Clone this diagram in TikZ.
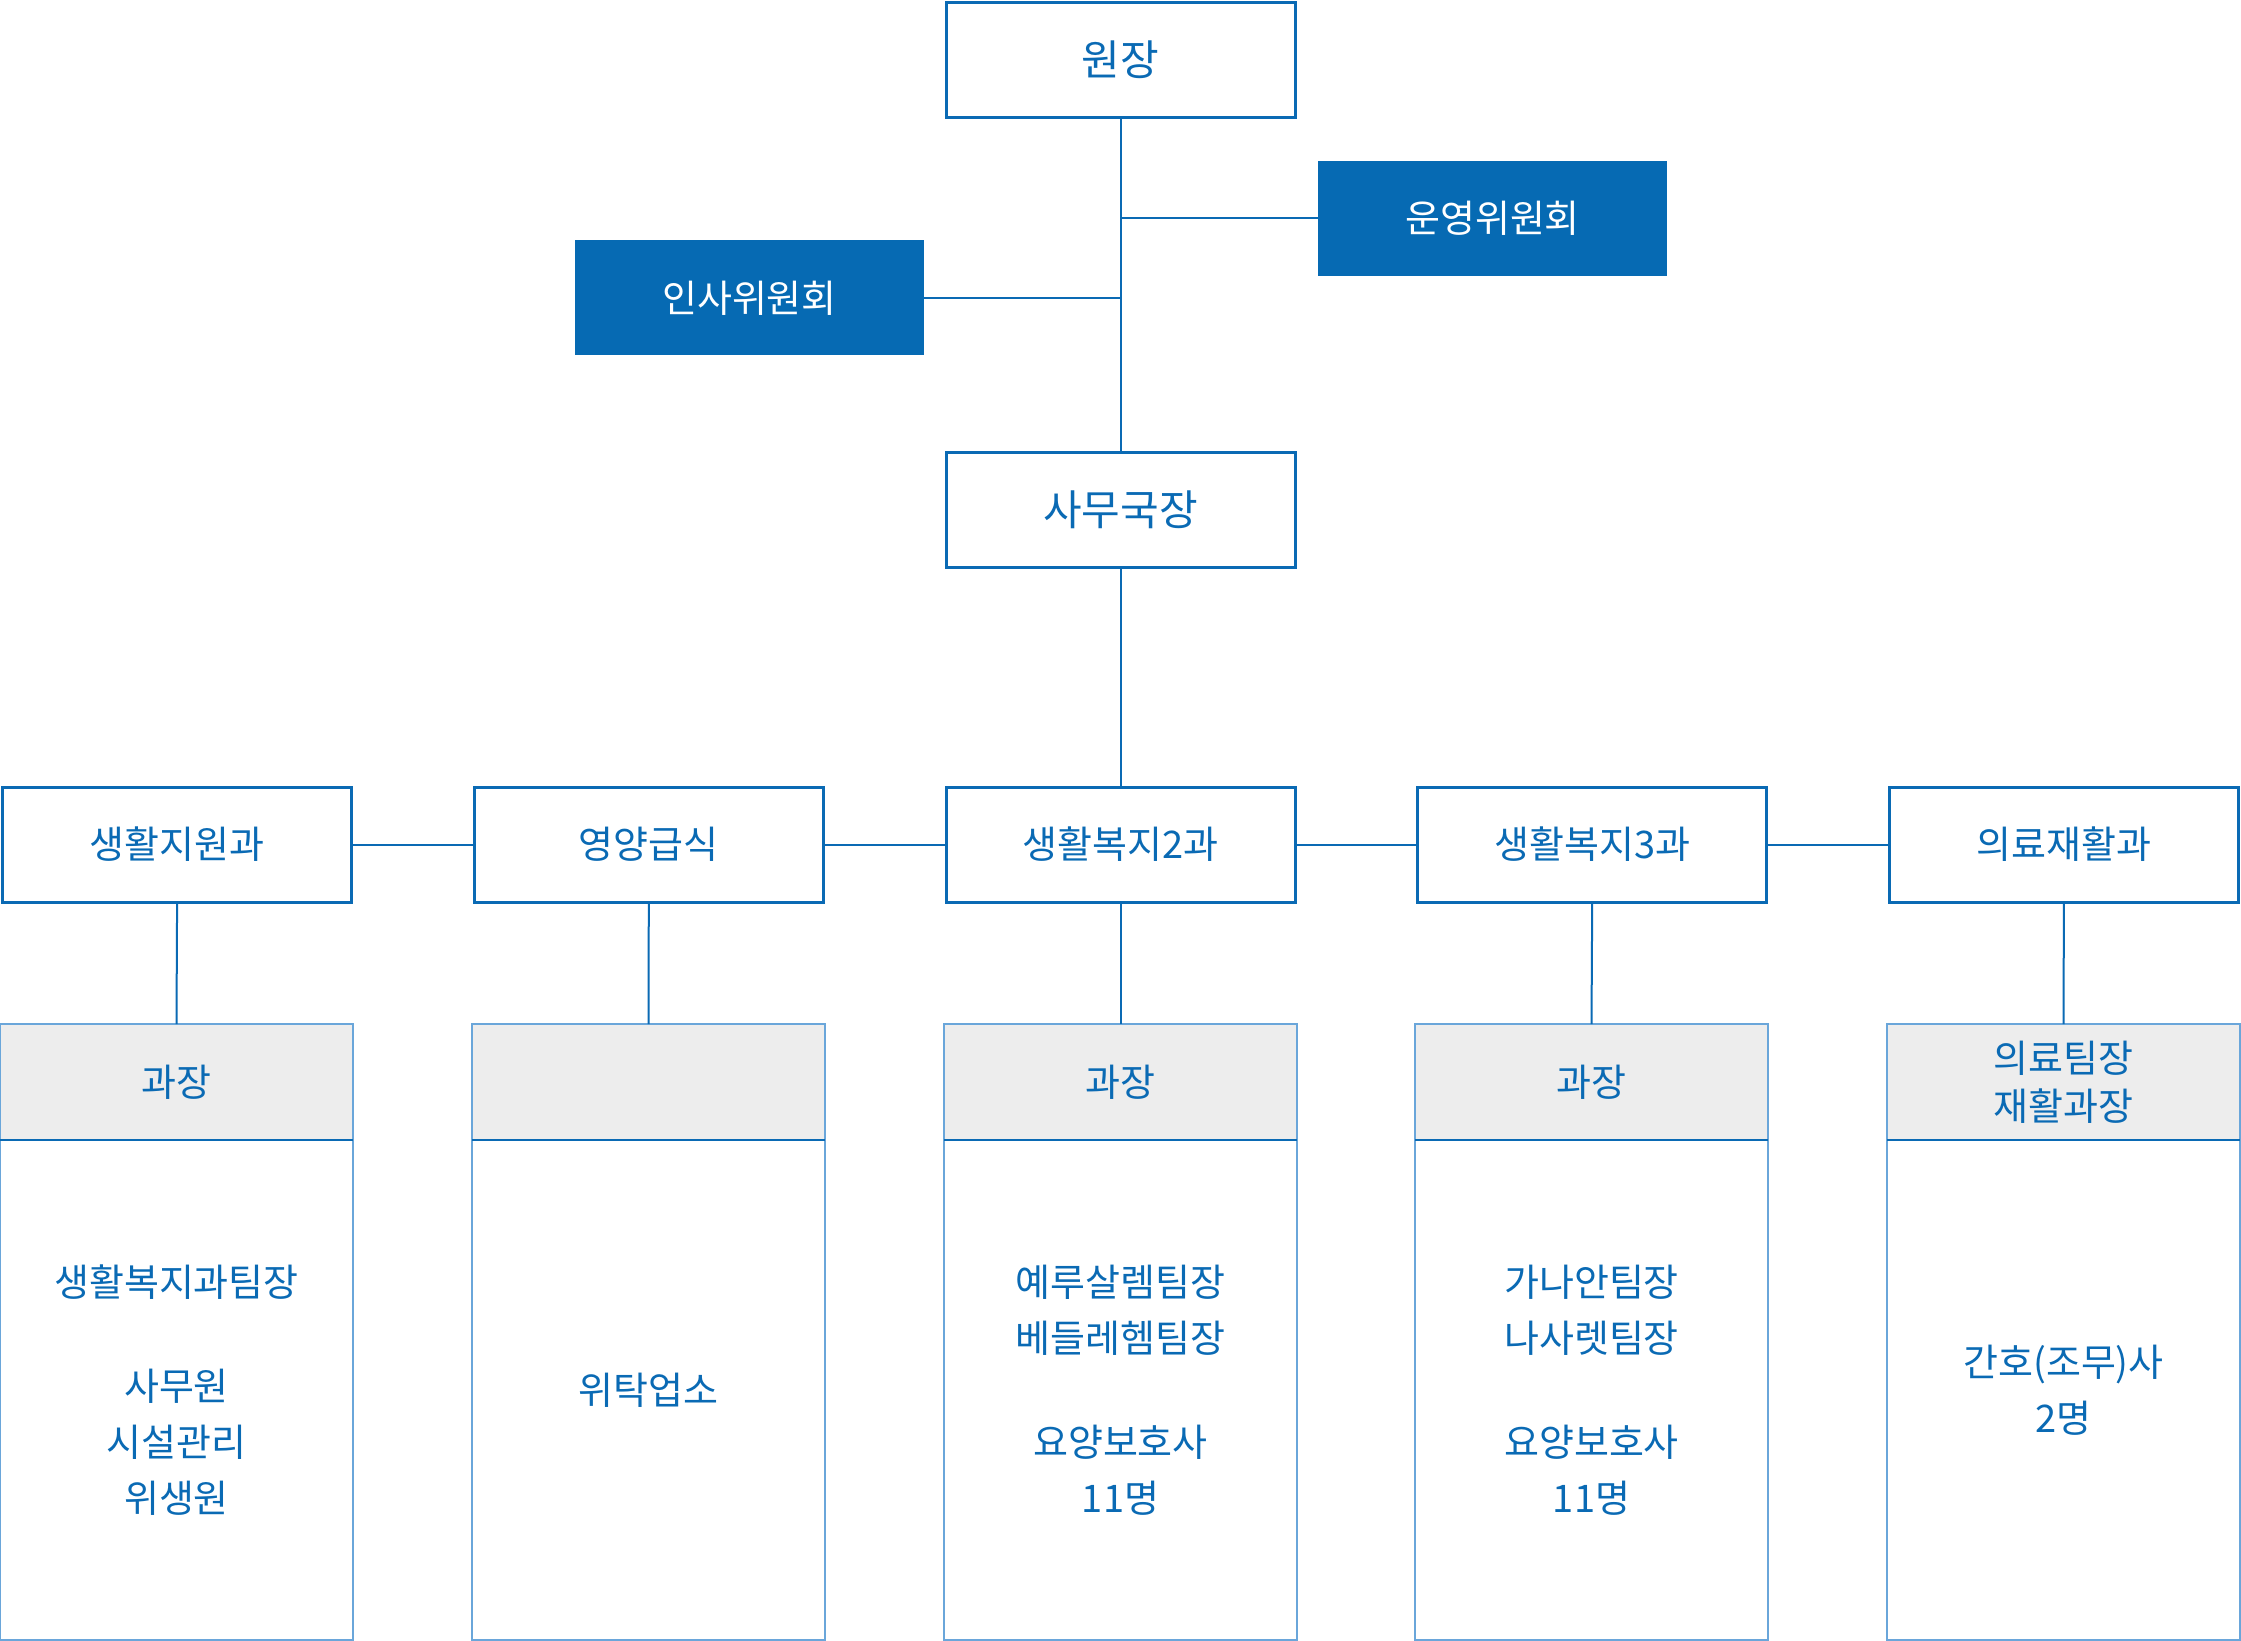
\documentclass[tikz,border=0pt]{standalone}
\usepackage{fontspec}
\setmainfont{Noto Sans CJK KR}
\definecolor{cblue}{HTML}{0A6AB4}
\definecolor{cfill}{HTML}{066AB3}
\definecolor{clight}{HTML}{6AA6DA}
\definecolor{cgray}{HTML}{EDEDED}
\begin{document}
\begin{tikzpicture}[x=0.5pt,y=-0.5pt,
  box/.style={draw=cblue,line width=1.5pt,fill=white,text=cblue,minimum width=174.5pt,minimum height=57.5pt,inner sep=0pt,outer sep=0pt,font=\fontsize{19}{26}\selectfont},
  bigbox/.style={box,font=\fontsize{21}{28}\selectfont},
  comm/.style={fill=cfill,text=white,minimum width=174.5pt,minimum height=57.5pt,inner sep=0pt,outer sep=0pt,font=\fontsize{19}{26}\selectfont},
  head/.style={draw=clight,line width=0.8pt,fill=cgray,text=cblue,minimum width=176.5pt,minimum height=58pt,inner sep=0pt,outer sep=0pt,align=center,font=\fontsize{19}{24}\selectfont},
  bodyb/.style={draw=clight,line width=0.8pt,fill=white,text=cblue,minimum width=176.5pt,minimum height=250pt,inner sep=0pt,outer sep=0pt,align=center,font=\fontsize{19}{28}\selectfont},
  conn/.style={draw=cblue,line width=1pt}]
\useasboundingbox (0,0) rectangle (2241,1641);
% top nodes
\node[bigbox] (wj) at (1120.5,60) {원장};
\node[comm] (uy) at (1492.5,218.5) {운영위원회};
\node[comm] (is) at (749.5,298) {인사위원회};
\node[bigbox] (sm) at (1120.5,510) {사무국장};
% row
\node[box] (r1) at (177.1,844.5) {생활지원과};
\node[box] (r2) at (648.8,844.5) {영양급식};
\node[box] (r3) at (1120.5,844.5) {생활복지2과};
\node[box] (r4) at (1592.2,844.5) {생활복지3과};
\node[box] (r5) at (2063.9,844.5) {의료재활과};
% tables
\node[head] (h1) at (176.5,1082) {과장};
\node[head] (h2) at (648.5,1082) {};
\node[head] (h3) at (1120.5,1082) {과장};
\node[head] (h4) at (1591.5,1082) {과장};
\node[head,font=\fontsize{19}{24}\selectfont] (h5) at (2063.5,1082) {의료팀장\\재활과장};
\node[bodyb] (b1) at (176.5,1390) {생활복지과팀장\\[24pt]사무원\\시설관리\\위생원};
\node[bodyb] (b2) at (648.5,1390) {위탁업소};
\node[bodyb] (b3) at (1120.5,1390) {예루살렘팀장\\베들레헴팀장\\[24pt]요양보호사\\11명};
\node[bodyb] (b4) at (1591.5,1390) {가나안팀장\\나사렛팀장\\[24pt]요양보호사\\11명};
\node[bodyb] (b5) at (2063.5,1390) {간호(조무)사\\2명};
\foreach \i in {1,...,5}{\draw[cblue,line width=1pt] (h\i.south west) -- (h\i.south east);}
% connectors
\begin{scope}[on background layer/.style={}]
\end{scope}
\draw[conn] (wj.south) -- (sm.north);
\draw[conn] (uy.west) -- (uy.west -| wj.south);
\draw[conn] (is.east) -- (is.east -| wj.south);
\draw[conn] (sm.south) -- (r3.north);
\draw[conn] (r1.east) -- (r2.west);
\draw[conn] (r2.east) -- (r3.west);
\draw[conn] (r3.east) -- (r4.west);
\draw[conn] (r4.east) -- (r5.west);
\foreach \i in {1,...,5}{\draw[conn] (r\i.south) -- (h\i.north);}
\end{tikzpicture}
\end{document}
